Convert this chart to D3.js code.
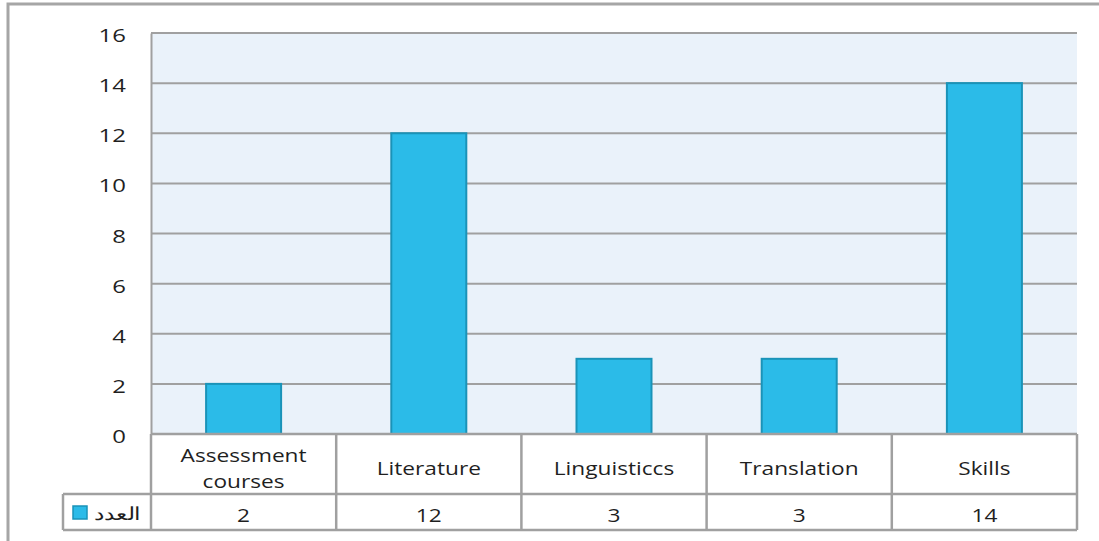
<!DOCTYPE html>
<html><head><meta charset="utf-8">
<script src="https://cdn.jsdelivr.net/npm/d3@7"></script>
<style>body{margin:0;background:#fff}svg{display:block}text{font-family:"Open Sans",sans-serif;fill:#1f1f1f}</style>
</head><body><svg id="c" width="1099" height="541"></svg>
<script>
const categories = [["Assessment","courses"],["Literature"],["Linguisticcs"],["Translation"],["Skills"]];
const values = [2, 12, 3, 3, 14];
const yTicks = [0, 2, 4, 6, 8, 10, 12, 14, 16];
const seriesName = "العدد";

const svg = d3.select("#c");
const L = 151, R = 1077, T = 33, B = 434, row1 = 494, row2 = 530, legL = 63;
const SX = 1.26;
const x = d3.scaleBand().domain(d3.range(values.length)).range([L, R]).paddingInner(0.595).paddingOuter(0.2975);
const y = d3.scaleLinear().domain([0, 16]).range([B, T]);
const grid = "#a0a0a0";

function label(g, px, py, s, size, anchor) {
  return g.append("text").attr("transform", `translate(${px},${py}) scale(${SX},1)`)
    .attr("text-anchor", anchor || "middle").attr("font-size", size).text(s);
}

// outer frame
svg.append("path").attr("d", "M8,541V4H1099").attr("fill","none").attr("stroke","#a6a6a6").attr("stroke-width",3);

// plot background
svg.append("rect").attr("x", L).attr("y", T).attr("width", R - L).attr("height", B - T).attr("fill", "#eaf2fa");

// gridlines
svg.append("g").selectAll("line").data(yTicks).join("line")
  .attr("x1", L).attr("x2", R).attr("y1", d => y(d)).attr("y2", d => y(d))
  .attr("stroke", grid).attr("stroke-width", 2);

// y axis
const ya = svg.append("g").attr("transform", `translate(${L},0)`)
  .call(d3.axisLeft(y).tickValues(yTicks).tickSize(0).tickPadding(20));
ya.select(".domain").attr("stroke", grid).attr("stroke-width", 2);
ya.selectAll("text").attr("font-size", 19).attr("dy", "0.45em").attr("fill", "#1f1f1f")
  .attr("font-family", '"Open Sans",sans-serif').attr("x", -25 / SX).attr("transform", `scale(${SX},1)`);

// bars
const bw = x.bandwidth();
svg.append("g").selectAll("rect").data(values).join("rect")
  .attr("x", (d, i) => x(i)).attr("y", d => y(d)).attr("width", bw).attr("height", d => y(0) - y(d))
  .attr("fill", "#2bbbe8").attr("stroke", "#1a93b8").attr("stroke-width", 2);

// data table
const colX = d3.range(values.length + 1).map(i => L + i * (R - L) / values.length);
const tb = svg.append("g").attr("stroke", grid).attr("stroke-width", 2.5).attr("fill", "none");
tb.append("line").attr("x1", L).attr("x2", R).attr("y1", B).attr("y2", B);
tb.append("line").attr("x1", legL).attr("x2", R).attr("y1", row1).attr("y2", row1);
tb.append("line").attr("x1", legL).attr("x2", R).attr("y1", row2).attr("y2", row2);
tb.append("line").attr("x1", legL).attr("x2", legL).attr("y1", row1).attr("y2", row2);
tb.selectAll(".v").data(colX).join("line").attr("class","v")
  .attr("x1", d => d).attr("x2", d => d).attr("y1", B).attr("y2", row2);

// category labels
const cx = i => (colX[i] + colX[i + 1]) / 2;
const tg = svg.append("g");
categories.forEach((lines, i) => {
  const n = lines.length, mid = (B + row1) / 2;
  lines.forEach((s, k) => label(tg, cx(i), mid + (k - (n - 1) / 2) * 26 + 11, s, 18));
});
// values
values.forEach((v, i) => label(tg, cx(i), (row1 + row2) / 2 + 10, v, 18));
// legend
svg.append("rect").attr("x", 73).attr("y", 506).attr("width", 14).attr("height", 13).attr("fill", "#2bbbe8").attr("stroke", "#1a93b8").attr("stroke-width", 1.5);
svg.append("text").attr("transform", "translate(141,520) scale(1.3,1)").attr("text-anchor", "end").attr("font-size", 18)
  .attr("font-family", '"Noto Sans","DejaVu Sans",sans-serif').text(seriesName);
</script></body></html>
